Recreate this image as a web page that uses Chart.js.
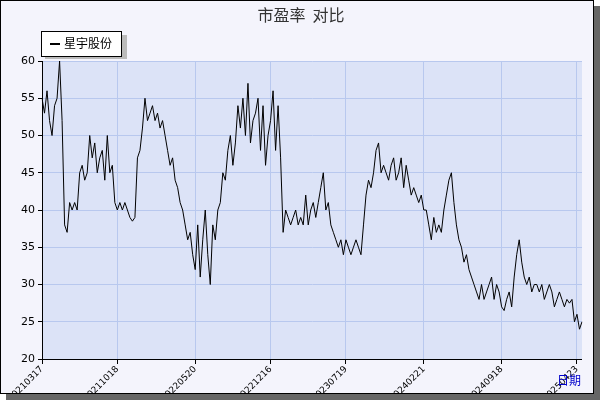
<!DOCTYPE html><html><head><meta charset="utf-8">
<script src="https://cdn.jsdelivr.net/npm/chart.js@4"></script>
<style>body{margin:0;background:#fff}#w{position:absolute;left:0;top:0;width:592px;height:392px;border:1px solid #000;background:#f4f4fc;box-shadow:6px 6px 0 #666}</style>
</head><body><div id="w"><canvas id="c" width="592" height="392"></canvas></div>
<script>
const seriesName = "星宇股份";
const peValues = [55,53,56,52,50,54,55,60,52,38,37,41,40,41,40,45,46,44,45,50,47,49,45,47,48,44,50,45,46,41,40,41,40,41,40,39,38.5,39,47,48,51,55,52,53,54,52,53,51,52,50,48,46,47,44,43,41,40,38,36,37,34,32,38,31,36,40,34,30,38,36,40,41,45,44,48,50,46,49,54,51,55,50,57,49,52,53,55,48,54,46,50,52,56,48,54,47,37,40,39,38,39,40,38,39,38,42,38,40,41,39,41,43,45,40,41,38,37,36,35,36,34,36,35,34,35,36,35,34,38,42,44,43,45,48,49,45,46,45,44,46,47,44,45,47,43,46,44,42,43,42,41,42,40,40,38,36,39,37,38,37,40,42,44,45,41,38,36,35,33,34,32,31,30,29,28,30,28,29,30,31,28,30,29,27,26.5,28,29,27,31,34,36,33,31,30,31,29,30,30,29,30,28,29,30,29,27,28,29,28,27,28,27.5,28,25,26,24,25];
const tickDates = ["20210317","20211018","20220520","20221216","20230719","20240221","20240918","20250423"];
const tickFractions = [0,0.141,0.283,0.424,0.565,0.707,0.85,0.993];
const N = peValues.length;
const labels = new Array(N).fill("");
tickDates.forEach((d,i)=>{labels[Math.round(tickFractions[i]*(N-1))]=d;});
const bg={id:'bg',beforeDraw(ch){const {ctx,chartArea:a}=ch;ctx.save();ctx.fillStyle='#dce3f7';ctx.fillRect(a.left,a.top,a.right-a.left,a.bottom-a.top);ctx.restore();},
afterDraw(ch){const ctx=ch.ctx,a=ch.chartArea;ctx.save();
ctx.fillStyle='#333';ctx.font='16px "Noto Sans CJK SC"';ctx.textAlign='center';ctx.fillText('市盈率  对比',300,20);
ctx.fillStyle='#bbb';ctx.fillRect(44,34,82,24);ctx.fillStyle='#fff';ctx.fillRect(40,30,81,25);ctx.strokeStyle='#000';ctx.lineWidth=1;ctx.strokeRect(40.5,30.5,80,25);
ctx.fillStyle='#000';ctx.fillRect(49,42,10,2);ctx.font='12px "Noto Sans CJK SC"';ctx.textAlign='left';ctx.fillText(seriesName,63,47);
ctx.fillStyle='#0000cc';ctx.fillText('日期',556,384);
ctx.strokeStyle='#000';ctx.beginPath();ctx.moveTo(a.left,a.bottom+0.5);ctx.lineTo(a.right,a.bottom+0.5);ctx.stroke();ctx.restore();}};
new Chart(document.getElementById('c'),{type:'line',data:{labels,datasets:[{data:peValues,borderColor:'#000',borderWidth:1,pointRadius:0,tension:0}]},
options:{responsive:false,animation:false,plugins:{legend:{display:false},tooltip:{enabled:false}},layout:{padding:{left:0,right:11,top:60,bottom:0}},
scales:{x:{afterFit(s){s.height=34;},grid:{color:c=>labels[c.index]?'#b8c8ee':'transparent',tickColor:c=>labels[c.index]?'#000':'transparent',tickLength:5,drawTicks:true},border:{display:false},
ticks:{autoSkip:false,maxRotation:45,minRotation:45,font:{size:9,family:'DejaVu Sans'},color:'#000',padding:0,callback:(v,i)=>labels[i]}},
y:{min:20,max:60,afterFit(s){s.width=41;},grid:{color:'#b8c8ee',tickColor:'#000',tickLength:4},border:{display:true,color:'#000'},ticks:{stepSize:5,font:{size:11,family:'DejaVu Sans'},color:'#000'}}}},plugins:[bg]});
</script></body></html>
